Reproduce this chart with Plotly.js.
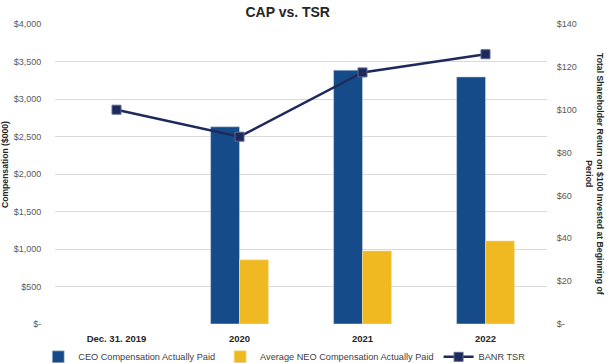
<!DOCTYPE html>
<html>
<head>
<meta charset="utf-8">
<script src="https://cdn.plot.ly/plotly-3.0.1.min.js"></script>
<style>html,body{margin:0;padding:0;background:#fff;}#chart{width:607px;height:363px;}</style>
</head>
<body>
<div id="chart"></div>
<script>
var categories = ["Dec. 31, 2019", "2020", "2021", "2022"];
var ceoCap = [null, 2630, 3385, 3295];
var neoCap = [null, 856, 975, 1108];
var tsr = [100, 87.4, 117.4, 125.9];
var leftTickVals = [0, 500, 1000, 1500, 2000, 2500, 3000, 3500, 4000];
var leftTickText = ["$-", "$500", "$1,000", "$1,500", "$2,000", "$2,500", "$3,000", "$3,500", "$4,000"];
var rightTickVals = [0, 20, 40, 60, 80, 100, 120, 140];
var rightTickText = ["$-", "$20", "$40", "$60", "$80", "$100", "$120", "$140"];

var FONT = "Liberation Sans, Arial, sans-serif";

var traces = [
  {type: "bar", name: "CEO Compensation Actually Paid", x: categories, y: ceoCap,
   marker: {color: "#164b8a", line: {color: "#c9d3e0", width: 0.6}}, yaxis: "y"},
  {type: "bar", name: "Average NEO Compensation Actually Paid", x: categories, y: neoCap,
   marker: {color: "#f0b922", line: {color: "#f6e0a0", width: 0.6}}, yaxis: "y"},
  {type: "scatter", mode: "lines+markers", name: "BANR TSR", x: categories, y: tsr, yaxis: "y2",
   line: {color: "#1f2a5c", width: 2.5},
   marker: {symbol: "square", size: 9, color: "#1f2a5c", line: {color: "#5a6890", width: 1}}}
];

var layout = {
  width: 607, height: 363,
  margin: {l: 55, r: 60, t: 24, b: 39},
  paper_bgcolor: "#ffffff", plot_bgcolor: "#ffffff",
  font: {family: FONT, size: 9, color: "#595959"},
  title: {text: "<b>CAP vs. TSR</b>", font: {family: FONT, size: 14, color: "#262626"},
          x: 0.474, xref: "container", xanchor: "center", y: 0.967, yanchor: "middle"},
  barmode: "group", bargap: 0.53, bargroupgap: 0,
  showlegend: true,
  legend: {orientation: "h", xref: "container", yref: "container", x: 0.063, xanchor: "left",
           y: 0.017, yanchor: "middle", itemwidth: 30,
           font: {family: FONT, size: 9.2, color: "#404040"}, traceorder: "normal"},
  xaxis: {type: "category", range: [-0.5, 3.5], showgrid: false, zeroline: false, showline: false,
          ticks: "outside", ticklen: 6, tickcolor: "rgba(0,0,0,0)",
          tickfont: {family: FONT, size: 9.5, color: "#262626", weight: "bold"}},
  yaxis: {range: [0, 4000], tickvals: leftTickVals, ticktext: leftTickText,
          showgrid: true, gridcolor: "#d9d9d9", gridwidth: 1, zeroline: false, showline: false,
          ticks: "outside", ticklen: 11, tickcolor: "rgba(0,0,0,0)",
          tickfont: {family: FONT, size: 9, color: "#595959"}},
  yaxis2: {range: [0, 140], tickvals: rightTickVals, ticktext: rightTickText, overlaying: "y", side: "right",
           showgrid: false, zeroline: false, showline: false,
           ticks: "outside", ticklen: 7, tickcolor: "rgba(0,0,0,0)",
           tickfont: {family: FONT, size: 9, color: "#595959"}},
  annotations: [
    {text: "<b>Compensation ($000)</b>", xref: "paper", yref: "paper", x: 0, y: 0.53,
     xanchor: "center", yanchor: "middle", xshift: -50, textangle: -90, showarrow: false,
     font: {family: FONT, size: 8.6, color: "#262626"}},
    {text: "<b>Total Shareholder Return on $100 Invested at Beginning of<br>Period</b>", xref: "paper", yref: "paper",
     x: 1, y: 0.5, xanchor: "center", yanchor: "middle", xshift: 48, textangle: 90, showarrow: false,
     font: {family: FONT, size: 8.7, color: "#262626"}}
  ]
};

Plotly.newPlot("chart", traces, layout, {displayModeBar: false, staticPlot: true});
</script>
</body>
</html>
